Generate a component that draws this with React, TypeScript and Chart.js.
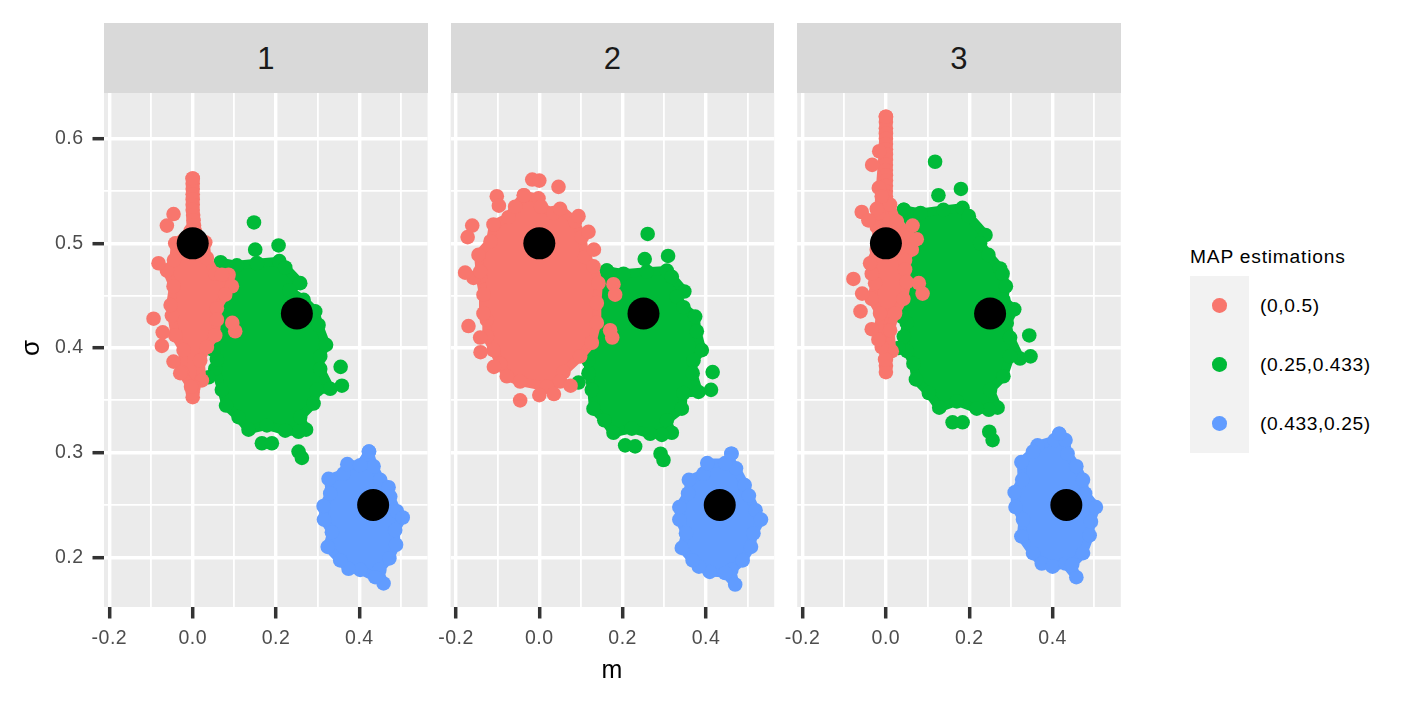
import React, { useEffect, useRef } from "react";
import { Chart, registerables } from "chart.js";

Chart.register(...registerables);

const panelNames = ["1", "2", "3"];
const legendTitle = "MAP estimations";
const legendLabels = ["(0,0.5)", "(0.25,0.433)", "(0.433,0.25)"];
const clusterColors = ["#F8766D", "#00BA38", "#619CFF"];
const mapX = [0, 0.25, 0.433];
const mapY = [0.5, 0.433, 0.25];

const xTicks = [-0.2, 0, 0.2, 0.4];
const xTickLabels = ["-0.2", "0.0", "0.2", "0.4"];
const xMinorTicks = [-0.1, 0.1, 0.3, 0.5];
const yTicks = [0.2, 0.3, 0.4, 0.5, 0.6];
const yTickLabels = ["0.2", "0.3", "0.4", "0.5", "0.6"];
const yMinorTicks = [0.25, 0.35, 0.45, 0.55];

// Panel 1
const red1Edge = [[0,.562],[0,.557],[0,.552],[0,.547],[0,.542],[0,.537],[0,.532],[.001,.527],[.002,.522],[.003,.517],[.005,.512],[.03,.501],[.034,.486],[.054,.471],[.086,.47],[.094,.459],[.078,.451],[.058,.438],[.058,.427],[.054,.412],[.034,.401],[.018,.388],[.022,.369],[.002,.363],[0,.358],[0,.353],[-.004,.363],[-.026,.377],[-.022,.398],[-.042,.412],[-.05,.431],[-.053,.441],[-.046,.459],[-.062,.474],[-.045,.484],[-.042,.5],[-.005,.512]];
const red1Stray = [[-.046,.528],[-.062,.517],[-.082,.481],[-.094,.428],[-.074,.402],[-.072,.415],[-.046,.387],[.102,.416],[.095,.424],[-.03,.376],[.07,.47]];
const green1Edge = [[.154,.481],[.208,.483],[.222,.477],[.258,.462],[.232,.455],[.266,.446],[.294,.435],[.302,.422],[.32,.403],[.306,.392],[.306,.38],[.33,.361],[.298,.36],[.29,.347],[.258,.334],[.272,.322],[.254,.32],[.222,.321],[.178,.326],[.134,.322],[.11,.334],[.08,.345],[.07,.36],[.054,.38],[.058,.389],[.05,.398],[.066,.42],[.082,.452],[.067,.482],[.106,.479]];
const green1Stray = [[.147,.52],[.206,.498],[.15,.494],[.355,.382],[.358,.364],[.166,.309],[.19,.309],[.254,.301],[.262,.295],[.038,.372]];
const blue1Edge = [[.423,.301],[.434,.287],[.45,.274],[.47,.267],[.474,.258],[.49,.244],[.504,.238],[.486,.226],[.488,.212],[.472,.199],[.448,.188],[.458,.175],[.438,.181],[.402,.188],[.374,.189],[.354,.197],[.324,.21],[.334,.224],[.315,.236],[.314,.249],[.33,.261],[.326,.275],[.362,.28],[.371,.289],[.402,.288]];

// Panel 2
const red2Edge = [[-.037,.546],[-.002,.543],[.004,.535],[.034,.529],[.05,.533],[.086,.521],[.102,.506],[.11,.487],[.13,.478],[.142,.462],[.138,.443],[.138,.424],[.126,.405],[.098,.392],[.058,.377],[.05,.368],[.018,.363],[-.046,.368],[-.078,.373],[-.094,.385],[-.11,.398],[-.126,.411],[-.126,.427],[-.134,.433],[-.134,.451],[-.142,.468],[-.158,.467],[-.142,.473],[-.146,.489],[-.117,.502],[-.11,.518],[-.074,.525],[-.058,.535]];
const red2Stray = [[-.017,.561],[0,.56],[.046,.554],[-.102,.545],[-.097,.536],[-.161,.517],[-.172,.506],[-.178,.472],[-.17,.421],[-.142,.41],[-.141,.396],[-.109,.382],[-.046,.35],[0,.355],[.035,.356],[.075,.364],[.175,.41],[.17,.417],[.178,.461],[.182,.451],[.094,.526],[.118,.511],[.131,.494]];
const green2Edge = [[.162,.474],[.202,.471],[.258,.473],[.306,.474],[.318,.468],[.348,.454],[.33,.449],[.346,.439],[.374,.43],[.378,.416],[.39,.398],[.37,.388],[.368,.376],[.382,.358],[.346,.357],[.342,.342],[.306,.331],[.318,.319],[.294,.317],[.266,.318],[.222,.323],[.178,.319],[.156,.331],[.13,.342],[.126,.36],[.118,.376],[.118,.388],[.138,.42],[.146,.459]];
const green2Stray = [[.26,.509],[.309,.488],[.253,.485],[.416,.377],[.412,.36],[.206,.307],[.23,.306],[.291,.299],[.298,.293],[.094,.367]];
const blue2Edge = [[.461,.299],[.456,.29],[.472,.285],[.493,.269],[.503,.259],[.519,.245],[.532,.236],[.514,.223],[.508,.21],[.488,.197],[.461,.188],[.47,.174],[.446,.185],[.409,.186],[.383,.191],[.368,.197],[.342,.209],[.352,.223],[.336,.236],[.336,.248],[.357,.261],[.359,.274],[.394,.28],[.403,.29],[.446,.29]];

// Panel 3
const red3Edge = [[0,.621],[0,.616],[0,.61],[0,.605],[0,.6],[0,.595],[0,.59],[0,.585],[0,.58],[0,.575],[0,.57],[0,.565],[0,.56],[0,.555],[0,.55],[0,.545],[0,.54],[.01,.537],[.026,.521],[.05,.511],[.062,.494],[.046,.484],[.046,.475],[.05,.463],[.042,.447],[.022,.433],[.01,.417],[.014,.397],[0,.389],[0,.383],[0,.377],[-.002,.389],[-.01,.401],[-.018,.408],[-.014,.433],[-.034,.447],[-.026,.462],[-.034,.471],[-.038,.481],[-.022,.494],[-.022,.516],[-.018,.529]];
const red3Stray = [[-.016,.588],[-.033,.575],[-.017,.553],[-.01,.545],[-.058,.53],[-.042,.522],[-.022,.533],[.064,.517],[.074,.504],[-.078,.466],[-.057,.452],[-.061,.435],[-.034,.418],[.079,.462],[.088,.452]];
const green3Edge = [[.043,.532],[.083,.529],[.138,.532],[.184,.534],[.199,.526],[.239,.508],[.226,.5],[.246,.489],[.274,.476],[.28,.471],[.288,.459],[.282,.446],[.308,.437],[.29,.424],[.298,.41],[.322,.39],[.298,.392],[.282,.373],[.25,.36],[.268,.343],[.247,.341],[.218,.342],[.17,.349],[.128,.343],[.103,.357],[.072,.37],[.066,.385],[.051,.397],[.043,.411],[.05,.424],[.038,.43],[.058,.478],[.066,.51]];
const green3Stray = [[.118,.578],[.18,.552],[.126,.546],[.344,.412],[.347,.392],[.16,.329],[.184,.329],[.248,.32],[.256,.312],[.03,.4]];
const blue3Edge = [[.416,.318],[.405,.312],[.364,.307],[.353,.301],[.325,.291],[.327,.274],[.309,.262],[.311,.248],[.329,.236],[.325,.22],[.353,.204],[.374,.194],[.4,.191],[.431,.194],[.457,.181],[.447,.193],[.473,.204],[.489,.221],[.492,.234],[.504,.248],[.478,.261],[.473,.274],[.457,.287],[.436,.299],[.431,.312]];

const panels = [
  { left: 104, gutter: 104, red: red1Edge, redStray: red1Stray, green: green1Edge, greenStray: green1Stray, blue: blue1Edge },
  { left: 450.6, gutter: 20.6, red: red2Edge, redStray: red2Stray, green: green2Edge, greenStray: green2Stray, blue: blue2Edge },
  { left: 797.2, gutter: 20.2, red: red3Edge, redStray: red3Stray, green: green3Edge, greenStray: green3Stray, blue: blue3Edge },
];

const PANEL_W = 323.6;
const PANEL_TOP = 93;
const PANEL_H = 514;
const CANVAS_H = 615;
const FONT = "'Liberation Sans', Arial, sans-serif";
const R = 7.3;

const toPts = (a: number[][]) => a.map(([x, y]) => ({ x, y }));
const edgeSet = (a: number[][], c: string) => ({
  data: toPts([...a, a[0]]),
  showLine: true,
  fill: "shape",
  backgroundColor: c,
  borderColor: c,
  borderWidth: 9,
  borderJoinStyle: "round",
  borderCapStyle: "round",
  tension: 0,
  pointRadius: R,
  pointBackgroundColor: c,
  pointBorderWidth: 0,
});
const straySet = (a: number[][], c: string) => ({
  data: toPts(a),
  showLine: false,
  pointRadius: R,
  pointBackgroundColor: c,
  pointBorderWidth: 0,
});

const panelBg = {
  id: "panelBg",
  beforeDraw(chart: any) {
    const { ctx, chartArea: a } = chart;
    ctx.letterSpacing = "0.5px";
    ctx.save();
    ctx.fillStyle = "#EBEBEB";
    ctx.fillRect(a.left, a.top, a.right - a.left, a.bottom - a.top);
    ctx.restore();
  },
};

function Panel({ index }: { index: number }) {
  const ref = useRef<HTMLCanvasElement | null>(null);
  const p = panels[index];
  const canvasLeft = Math.round(p.left - p.gutter);
  const canvasW = Math.ceil(p.gutter + PANEL_W + 22);
  useEffect(() => {
    const showY = index === 0;
    const black = {
      data: mapX.map((x, i) => ({ x, y: mapY[i] })),
      showLine: false,
      pointRadius: 16,
      pointBackgroundColor: "#000000",
      pointBorderWidth: 0,
    };
    const gridOpts = (major: number[], showTick: boolean) => ({
      color: "#FFFFFF",
      lineWidth: (c: any) => (major.includes(c.tick?.value) ? 3.4 : 1.8),
      drawTicks: showTick,
      tickLength: 11.5,
      tickColor: (c: any) => (major.includes(c.tick?.value) ? "#333333" : "rgba(0,0,0,0)"),
      tickWidth: (c: any) => (major.includes(c.tick?.value) ? 3.5 : 0),
    });
    const chart = new Chart(ref.current as HTMLCanvasElement, {
      type: "scatter",
      data: {
        datasets: [
          black,
          straySet(p.redStray, clusterColors[0]),
          edgeSet(p.red, clusterColors[0]),
          straySet(p.greenStray, clusterColors[1]),
          edgeSet(p.green, clusterColors[1]),
          edgeSet(p.blue, clusterColors[2]),
        ] as any,
      },
      options: {
        animation: false,
        responsive: false,
        events: [],
        layout: {
          autoPadding: false,
          padding: { left: 0, top: 0, right: canvasW - p.gutter - PANEL_W, bottom: 0 },
        },
        plugins: { legend: { display: false }, tooltip: { enabled: false } },
        scales: {
          x: {
            type: "linear",
            min: -0.2129,
            max: 0.5637,
            border: { display: false },
            grid: gridOpts(xTicks, true),
            afterBuildTicks: (s: any) => {
              s.ticks = [...xTicks, ...xMinorTicks].sort((a, b) => a - b).map((value) => ({ value }));
            },
            afterFit: (s: any) => {
              s.height = CANVAS_H - PANEL_H;
              s.paddingLeft = s.paddingRight = s.paddingTop = s.paddingBottom = 0;
            },
            ticks: {
              autoSkip: false,
              maxRotation: 0,
              padding: 8,
              color: "#4D4D4D",
              font: { family: FONT, size: 19.5 },
              callback: (v: any) => {
                const i = xTicks.indexOf(v);
                return i >= 0 ? xTickLabels[i] : "";
              },
            },
          },
          y: {
            type: "linear",
            min: 0.1525,
            max: 0.6437,
            border: { display: false },
            grid: gridOpts(yTicks, showY),
            afterBuildTicks: (s: any) => {
              s.ticks = [...yTicks, ...yMinorTicks].sort((a, b) => a - b).map((value) => ({ value }));
            },
            afterFit: (s: any) => {
              s.width = p.gutter;
              s.paddingLeft = s.paddingRight = s.paddingTop = s.paddingBottom = 0;
            },
            ticks: {
              display: showY,
              autoSkip: false,
              padding: 9,
              color: "#4D4D4D",
              font: { family: FONT, size: 19.5 },
              callback: (v: any) => {
                const i = yTicks.indexOf(v);
                return i >= 0 ? yTickLabels[i] : "";
              },
            },
          },
        },
      } as any,
      plugins: [panelBg],
    });
    return () => chart.destroy();
  }, [index]);
  return (
    <canvas
      ref={ref}
      width={canvasW}
      height={CANVAS_H}
      style={{ position: "absolute", left: canvasLeft, top: PANEL_TOP, width: canvasW, height: CANVAS_H }}
    />
  );
}

const textBase: React.CSSProperties = { position: "absolute", fontFamily: FONT, whiteSpace: "nowrap", lineHeight: 1 };

export default function App() {
  return (
    <div style={{ position: "fixed", left: 0, top: 0, width: 1417, height: 708, background: "#FFFFFF", overflow: "hidden" }}>
      {panels.map((p, i) => (
        <Panel key={i} index={i} />
      ))}
      {panels.map((p, i) => (
        <div
          key={i}
          style={{
            ...textBase,
            left: p.left,
            top: 23,
            width: PANEL_W,
            height: 70,
            lineHeight: "72px",
            background: "#D9D9D9",
            color: "#1A1A1A",
            textAlign: "center",
            fontSize: 31,
          }}
        >
          {panelNames[i]}
        </div>
      ))}
      <div style={{ ...textBase, left: 0, width: 1224, textAlign: "center", top: 657, fontSize: 25, color: "#000" }}>m</div>
      <div
        style={{
          ...textBase,
          left: 30,
          top: 348,
          fontSize: 26,
          color: "#000",
          transform: "translate(-50%,-50%) rotate(-90deg)",
        }}
      >
        σ
      </div>
      <div style={{ ...textBase, left: 1190, top: 247, fontSize: 19.2, letterSpacing: 0.8, color: "#000" }}>{legendTitle}</div>
      {legendLabels.map((t, i) => (
        <React.Fragment key={t}>
          <div style={{ position: "absolute", left: 1190, top: 276 + i * 59, width: 59, height: 58.5, background: "#F2F2F2" }} />
          <div
            style={{
              position: "absolute",
              left: 1219.5 - R,
              top: 305.5 + i * 59 - R,
              width: 2 * R,
              height: 2 * R,
              borderRadius: "50%",
              background: clusterColors[i],
            }}
          />
          <div style={{ ...textBase, left: 1260, top: 296 + i * 59, fontSize: 19.2, letterSpacing: 0.6, color: "#000" }}>{t}</div>
        </React.Fragment>
      ))}
    </div>
  );
}
